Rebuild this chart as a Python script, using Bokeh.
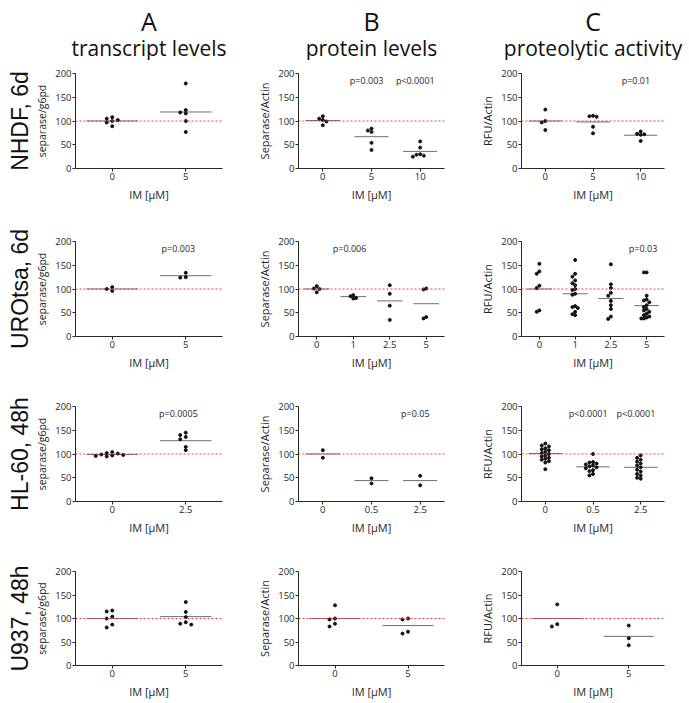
from bokeh.plotting import figure
from bokeh.models import Range1d, Span, FixedTicker, Title
from bokeh.layouts import column, row
from bokeh.embed import file_html
from bokeh.resources import INLINE
from bokeh.core.properties import value

col_letters = ["A", "B", "C"]
col_names = ["transcript levels", "protein levels", "proteolytic activity"]
row_names = ["NHDF, 6d", "UROtsa, 6d", "HL-60, 48h", "U937, 48h"]
y_titles = ["separase/g6pd", "Separase/Actin", "RFU/Actin"]
x_title = "IM [\u03bcM]"
reference_level = 100
y_ticks = [0, 50, 100, 150, 200]

# Row 1: NHDF, 6d
nhdf_doses_a = ["0", "5"]
nhdf_vals_a = [[108, 105, 102, 100, 97, 89], [179, 123, 118, 116, 100, 77]]
nhdf_mean_a = [100, 119]
nhdf_p_a = ["", ""]

nhdf_doses_b = ["0", "5", "10"]
nhdf_vals_b = [[110, 105, 102, 99, 91], [84, 80, 77, 54, 39], [57, 44, 30, 29, 27, 25]]
nhdf_mean_b = [101, 67, 36]
nhdf_p_b = ["", "p=0.003", "p<0.0001"]

nhdf_doses_c = ["0", "5", "10"]
nhdf_vals_c = [[124, 100, 97, 81], [111, 110, 109, 88, 74], [78, 73, 72, 71, 58]]
nhdf_mean_c = [100, 98, 70]
nhdf_p_c = ["", "", "p=0.01"]

# Row 2: UROtsa, 6d
uro_doses_a = ["0", "5"]
uro_vals_a = [[104, 100, 96], [134, 125, 124]]
uro_mean_a = [100, 128]
uro_p_a = ["", "p=0.003"]

uro_doses_b = ["0", "1", "2.5", "5"]
uro_vals_b = [[106, 101, 100, 93], [87, 85, 81, 80], [108, 90, 65, 35], [101, 99, 41, 38]]
uro_mean_b = [100, 84, 75, 69]
uro_p_b = ["", "p=0.006", "", ""]

uro_doses_c = ["0", "1", "2.5", "5"]
uro_vals_c = [[153, 137, 132, 107, 102, 55, 52],
              [161, 132, 126, 118, 112, 108, 98, 90, 88, 64, 62, 60, 52, 47, 45, 100],
              [152, 110, 102, 92, 86, 75, 66, 58, 42, 37],
              [135, 135, 86, 78, 76, 72, 66, 62, 58, 55, 52, 48, 45, 42, 40, 38, 38]]
uro_mean_c = [100, 90, 80, 65]
uro_p_c = ["", "", "", "p=0.03"]

# Row 3: HL-60, 48h
hl_doses_a = ["0", "2.5"]
hl_vals_a = [[104, 102, 101, 99, 98, 97, 96, 95], [145, 140, 136, 131, 115, 108]]
hl_mean_a = [99, 128]
hl_p_a = ["", "p=0.0005"]

hl_doses_b = ["0", "0.5", "2.5"]
hl_vals_b = [[108, 92], [49, 38], [54, 34]]
hl_mean_b = [100, 44, 44]
hl_p_b = ["", "", "p=0.05"]

hl_doses_c = ["0", "0.5", "2.5"]
hl_vals_c = [[122, 118, 116, 112, 110, 108, 105, 102, 100, 97, 95, 92, 90, 88, 85, 82, 68],
             [100, 83, 82, 80, 78, 76, 74, 72, 70, 66, 64, 58, 55],
             [97, 92, 88, 84, 80, 76, 72, 67, 63, 58, 55, 50, 48]]
hl_mean_c = [101, 73, 72]
hl_p_c = ["", "p<0.0001", "p<0.0001"]

# Row 4: U937, 48h
u9_doses_a = ["0", "5"]
u9_vals_a = [[117, 115, 104, 100, 87, 81], [135, 114, 103, 92, 89, 87]]
u9_mean_a = [100, 104]
u9_p_a = ["", ""]

u9_doses_b = ["0", "5"]
u9_vals_b = [[128, 100, 98, 89, 83], [100, 98, 72, 68]]
u9_mean_b = [100, 85]
u9_p_b = ["", ""]

u9_doses_c = ["0", "5"]
u9_vals_c = [[130, 88, 83], [85, 58, 43]]
u9_mean_c = [100, 62]
u9_p_c = ["", ""]

panels = [
    [(nhdf_doses_a, nhdf_vals_a, nhdf_mean_a, nhdf_p_a),
     (nhdf_doses_b, nhdf_vals_b, nhdf_mean_b, nhdf_p_b),
     (nhdf_doses_c, nhdf_vals_c, nhdf_mean_c, nhdf_p_c)],
    [(uro_doses_a, uro_vals_a, uro_mean_a, uro_p_a),
     (uro_doses_b, uro_vals_b, uro_mean_b, uro_p_b),
     (uro_doses_c, uro_vals_c, uro_mean_c, uro_p_c)],
    [(hl_doses_a, hl_vals_a, hl_mean_a, hl_p_a),
     (hl_doses_b, hl_vals_b, hl_mean_b, hl_p_b),
     (hl_doses_c, hl_vals_c, hl_mean_c, hl_p_c)],
    [(u9_doses_a, u9_vals_a, u9_mean_a, u9_p_a),
     (u9_doses_b, u9_vals_b, u9_mean_b, u9_p_b),
     (u9_doses_c, u9_vals_c, u9_mean_c, u9_p_c)],
]

# ---- layout / style ----
COL_W = [245, 225, 217]
COL_BL = [75, 53, 51]
COL_BR = [23, 26, 23]
HEADER_H = 60
ROW_H = [146, 168, 165, 162]
ROW_BT = [13, 35, 32, 32]
ROW_BB = [38, 38, 38, 35]
FONT = "Open Sans"
AX = "#262626"


def spread(vals, step=0.075, thr=6.5):
    order = sorted(range(len(vals)), key=lambda i: -vals[i])
    placed = []
    offs = [0.0] * len(vals)
    cands = [0, -1, 1, -2, 2, -3, 3, -4, 4]
    for i in order:
        for c in cands:
            if all(not (pc == c and abs(vals[i] - pv) < thr) for pv, pc in placed):
                offs[i] = c * step
                placed.append((vals[i], c))
                break
    return offs


def make_header(c):
    w, h = COL_W[c], HEADER_H
    p = figure(width=w, height=h, x_range=Range1d(0, w), y_range=Range1d(0, h),
               output_backend="svg", toolbar_location=None,
               x_axis_location=None, y_axis_location=None,
               min_border_left=0, min_border_right=0,
               min_border_top=0, min_border_bottom=0)
    p.outline_line_color = None
    p.grid.visible = False
    p.background_fill_color = "white"
    p.border_fill_color = "white"
    cx = COL_BL[c] + (w - COL_BL[c] - COL_BR[c]) / 2
    p.text(x=[cx], y=[h - 20], text=[col_letters[c]], text_font=value(FONT),
           text_font_size="25px", text_color="#111111",
           text_align="center", text_baseline="middle")
    p.text(x=[cx], y=[h - 47], text=[col_names[c]], text_font=value(FONT),
           text_font_size="21px", text_color="#111111",
           text_align="center", text_baseline="middle")
    return p


def make_panel(r, c, doses, vals, means, pvals):
    n = len(doses)
    p = figure(width=COL_W[c], height=ROW_H[r],
               x_range=Range1d(0.5, n + 0.5), y_range=Range1d(0, 200),
               output_backend="svg", toolbar_location=None,
               min_border_left=COL_BL[c], min_border_right=COL_BR[c],
               min_border_top=ROW_BT[r], min_border_bottom=ROW_BB[r])
    p.outline_line_color = None
    p.grid.visible = False
    p.background_fill_color = "white"
    p.border_fill_color = "white"

    for ax in (p.xaxis, p.yaxis):
        ax.axis_line_color = AX
        ax.axis_line_width = 1
        ax.major_tick_line_color = AX
        ax.major_tick_out = 3
        ax.major_tick_in = 0
        ax.minor_tick_line_color = None
        ax.major_label_text_font = FONT
        ax.major_label_text_font_size = "9.5px"
        ax.major_label_text_color = AX
        ax.major_label_standoff = 1
        ax.axis_label_text_font = FONT
        ax.axis_label_text_font_style = "normal"
        ax.axis_label_text_color = AX
    p.yaxis.ticker = FixedTicker(ticks=y_ticks)
    p.yaxis.axis_label = y_titles[c]
    p.yaxis.axis_label_text_font_size = "10.5px" if c == 0 else "11px"
    p.yaxis.axis_label_standoff = 3
    p.xaxis.ticker = FixedTicker(ticks=list(range(1, n + 1)))
    p.xaxis.major_label_overrides = {i + 1: d for i, d in enumerate(doses)}
    p.xaxis.axis_label = x_title
    p.xaxis.axis_label_text_font_size = "11px"
    p.xaxis.axis_label_standoff = 4

    p.add_layout(Span(location=reference_level, dimension="width",
                      line_color="#e0474a", line_dash="2 2", line_width=1))

    xs, ys = [], []
    for i, v in enumerate(vals):
        offs = spread(v)
        xs += [i + 1 + o for o in offs]
        ys += list(v)
    p.segment(x0=[i + 1 - 0.35 for i in range(n)], x1=[i + 1 + 0.35 for i in range(n)],
              y0=means, y1=means, line_color="#6e6e6e", line_width=1)
    p.scatter(xs, ys, size=3, marker="circle", color="#111111")

    px = [i + 1 - 0.1 for i, t in enumerate(pvals) if t]
    pt = [t for t in pvals if t]
    if pt:
        p.text(x=px, y=[186] * len(pt), text=pt, text_font=value(FONT),
               text_font_size="9px", text_color=AX,
               text_align="center", text_baseline="middle")

    if c == 0:
        p.add_layout(Title(text=row_names[r], align="center", text_font="Liberation Sans",
                           text_font_size="23px", text_font_style="normal",
                           text_color="#111111", standoff=0), "left")
    return p


rows = [row(*[make_header(c) for c in range(3)])]
for r in range(4):
    figs = [make_panel(r, c, *panels[r][c]) for c in range(3)]
    rows.append(row(*figs))
layout = column(*rows)

open("out.html", "w").write(file_html(layout, INLINE))
